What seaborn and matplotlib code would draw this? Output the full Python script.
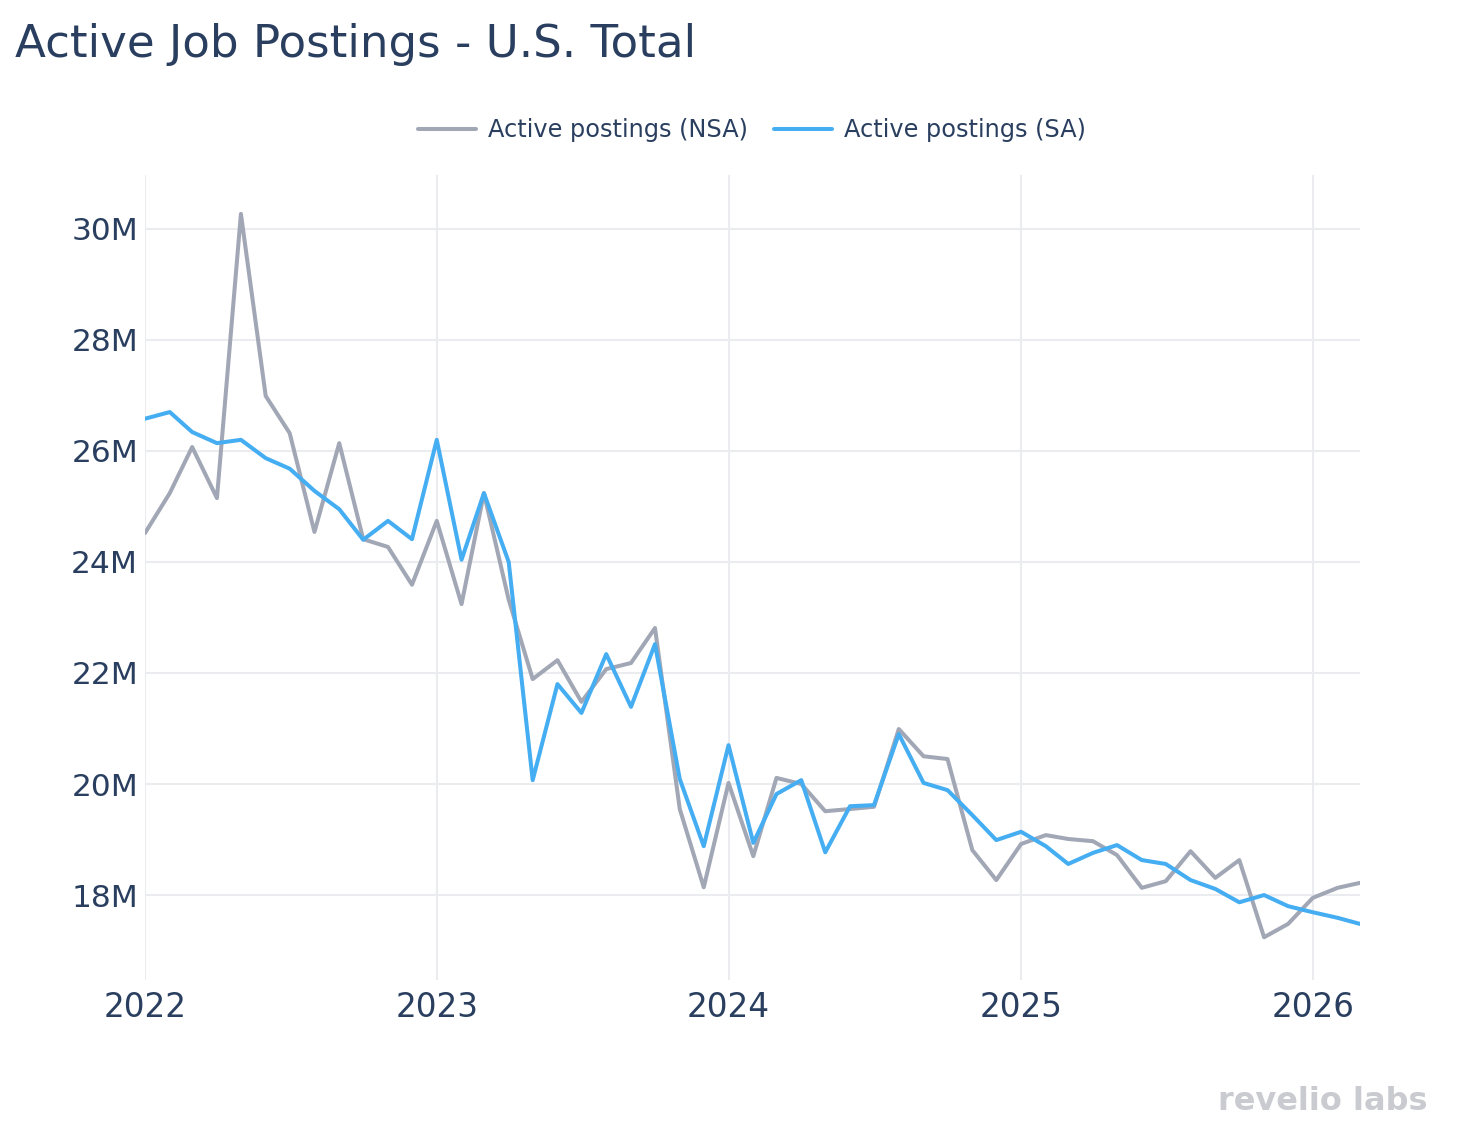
import matplotlib
matplotlib.use("Agg")
import matplotlib.pyplot as plt
import matplotlib.ticker as mticker
from matplotlib.lines import Line2D
import seaborn as sns
import pandas as pd

# ---- data (millions of active postings), monthly Jan 2022 .. Mar 2026 ----
months = pd.date_range("2022-01-01", "2026-03-01", freq="MS")
nsa = [24.52, 25.24, 26.07, 25.15, 30.27, 26.99, 26.32, 24.54, 26.14, 24.41, 24.27, 23.59,
       24.74, 23.24, 25.24, 23.32, 21.89, 22.23, 21.48, 22.07, 22.18, 22.81, 19.55, 18.14,
       20.02, 18.70, 20.11, 20.00, 19.51, 19.55, 19.59, 20.99, 20.50, 20.45, 18.81, 18.27,
       18.92, 19.08, 19.01, 18.97, 18.72, 18.13, 18.25, 18.79, 18.31, 18.63, 17.24, 17.48,
       17.95, 18.13, 18.22]
sa = [26.58, 26.70, 26.34, 26.14, 26.20, 25.87, 25.68, 25.28, 24.95, 24.40, 24.74, 24.41,
      26.20, 24.04, 25.24, 24.00, 20.07, 21.80, 21.28, 22.34, 21.39, 22.52, 20.09, 18.88,
      20.70, 18.94, 19.82, 20.07, 18.77, 19.60, 19.62, 20.90, 20.02, 19.89, 19.44, 18.99,
      19.14, 18.88, 18.56, 18.76, 18.90, 18.63, 18.56, 18.27, 18.11, 17.87, 18.00, 17.80,
      17.69, 17.59, 17.48]
series_names = ["Active postings (NSA)", "Active postings (SA)"]
colors = ["#a2a7b6", "#45adf2"]
yticks = [18, 20, 22, 24, 26, 28, 30]
xtick_years = ["2022", "2023", "2024", "2025", "2026"]

df = pd.DataFrame({
    "date": list(months) * 2,
    "value": nsa + sa,
    "series": [series_names[0]] * len(nsa) + [series_names[1]] * len(sa),
})

TEXT = "#2a3f5f"
GRID = "#ebecf0"

sns.set_theme(style="white")
plt.rcParams["font.family"] = ["DejaVu Sans"]

fig = plt.figure(figsize=(14.64, 11.36), dpi=100)
ax = fig.add_axes([145 / 1464, 1 - 980 / 1136, (1360 - 145) / 1464, (980 - 175) / 1136])

sns.lineplot(data=df, x="date", y="value", hue="series", palette=colors,
             linewidth=2.9, ax=ax, legend=False)

ax.set_xlim(months[0], months[-1])
ax.set_ylim(16.47, 30.97)

ax.set_yticks(yticks)
ax.yaxis.set_major_formatter(mticker.FuncFormatter(lambda v, p: f"{v:.0f}M"))
ax.set_xticks([pd.Timestamp(f"{y}-01-01") for y in xtick_years])
ax.set_xticklabels(xtick_years)

ax.grid(True, color=GRID, linewidth=1.5)
ax.set_axisbelow(True)
for s in ax.spines.values():
    s.set_visible(False)
ax.tick_params(axis="both", length=0, labelsize=23.5, colors=TEXT)
ax.tick_params(axis="y", labelsize=22.5, pad=5)
ax.tick_params(axis="x", pad=8)
ax.set_xlabel("")
ax.set_ylabel("")

# legend
handles = [Line2D([0], [0], color=c, lw=2.9) for c in colors]
leg = fig.legend(handles, series_names, loc="center", bbox_to_anchor=(752 / 1464, 1 - 130 / 1136),
                 ncol=2, frameon=False, fontsize=17.3, handlelength=2.4, handletextpad=0.5,
                 columnspacing=1.1)
for t in leg.get_texts():
    t.set_color(TEXT)

fig.text(15 / 1464, 1 - 57 / 1136, "Active Job Postings - U.S. Total", fontsize=32.5,
         color=TEXT, ha="left", va="baseline")
fig.text(1428 / 1464, 1 - 1102 / 1136, "revelio labs", fontsize=23, fontweight="bold",
         color="#cacbd0", ha="right", va="center")

fig.savefig("out.png", dpi=100)
